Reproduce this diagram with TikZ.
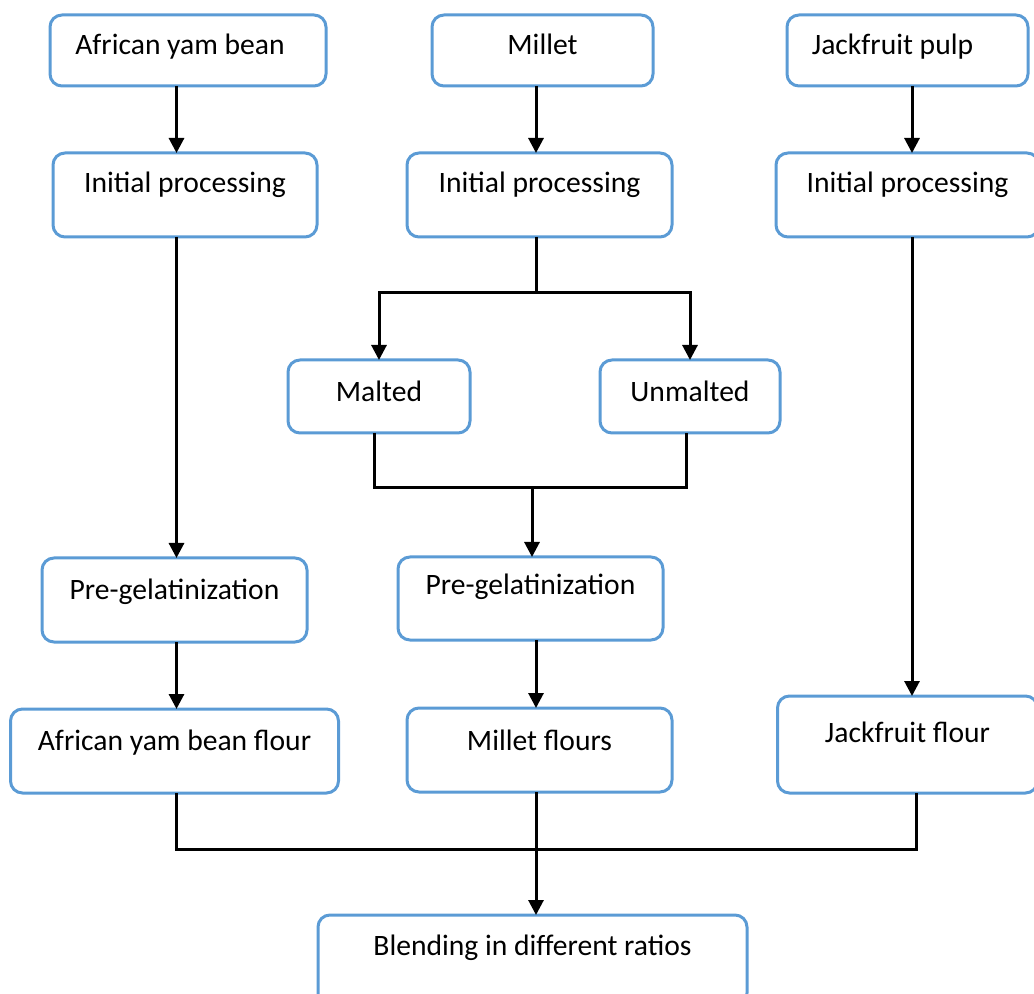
\documentclass[tikz,border=0pt]{standalone}
\usepackage{fontspec}
\setmainfont{Carlito}
\usepackage{xcolor}
\usepackage{tikz}
\usetikzlibrary{positioning,arrows.meta}
\definecolor{boxblue}{RGB}{91,155,213}
\tikzset{
  flow-box/.style={draw=boxblue, line width=1.5pt, rounded corners=6pt,
    inner sep=0pt, outer sep=0pt, text height=9.5pt,
    font=\fontsize{14.8}{17}\selectfont},
  flow-line/.style={line width=1.5pt, draw=black},
  flow-arrow/.style={flow-line, -{Triangle[length=7.5pt, width=7.5pt]}}
}

\begin{document}
\begin{tikzpicture}[x=0.5pt, y=-0.5pt, node distance=33.5pt and 65pt]
\useasboundingbox (0,0) rectangle (1034,994);

% Raw materials in the top row
\node[flow-box, minimum width=138pt, minimum height=35.5pt, text depth=5pt] (ayb) at (188,50.5) {African yam bean\kern8pt};
\node[flow-box, minimum width=110.5pt, minimum height=35.5pt, text depth=5pt] (millet) at (542.5,50.5) {Millet};
\node[flow-box, minimum width=120.5pt, minimum height=35.5pt, text depth=5pt] (jp) at (907.5,50.5) {Jackfruit pulp\kern15pt};

% Initial processing
\node[flow-box, below=of ayb, xshift=-1.5pt, minimum width=132pt, minimum height=42pt, text depth=11.5pt] (ip1) {Initial processing};
\node[flow-box, below=of millet, xshift=-1.5pt, minimum width=132.5pt, minimum height=42pt, text depth=11.5pt] (ip2) {Initial processing};
\node[flow-box, below=of jp, minimum width=131.5pt, minimum height=42pt, text depth=11.5pt] (ip3) {Initial processing};

% Millet branches
\node[flow-box, below=61.5pt of ip2, xshift=-80.25pt, minimum width=91pt, minimum height=36.5pt, text depth=4pt] (malted) {Malted};
\node[flow-box, right=of malted, minimum width=90pt, minimum height=36.5pt, text depth=4pt] (unmalted) {Unmalted};

% Pre-gelatinization
\node[flow-box, below=160.5pt of ip1, xshift=-5.25pt, minimum width=132.5pt, minimum height=42pt, text depth=9.5pt] (pg1) {Pre-gelatinization};
\node[flow-box, below=160pt of ip2, xshift=-4.5pt, minimum width=132.5pt, minimum height=41.5pt, text depth=13pt] (pg2) {Pre-gelatinization};

% Flours
\node[flow-box, below=of pg1, minimum width=164pt, minimum height=42pt, text depth=10.5pt] (aybf) {African yam bean flour};
\node[flow-box, below=34pt of pg2, xshift=4.5pt, minimum width=132.5pt, minimum height=42pt, text depth=9.5pt] (mf) {Millet flours};
\node[flow-box, below=229.5pt of ip3, minimum width=130pt, minimum height=48.5pt, text depth=12pt] (jff) {Jackfruit flour};

% Final step
\node[flow-box, below=61.5pt of mf, xshift=-3.5pt, minimum width=214.5pt, minimum height=45pt, text depth=14.5pt] (blend) {Blending in different ratios};

% Column lines and junctions
\coordinate (col1) at (176.5,0);
\coordinate (col2) at (536,0);
\coordinate (col3) at (912,0);
\coordinate (split) at (536,293);
\coordinate (merge) at (532,488);
\coordinate (bus) at (536,849);
\coordinate (jffdrop) at (916,849);

% African yam bean column
\draw[flow-arrow] (ayb.south -| col1) -- (ip1.north -| col1);
\draw[flow-arrow] (ip1.south -| col1) -- (pg1.north -| col1);
\draw[flow-arrow] (pg1.south -| col1) -- (aybf.north -| col1);

% Millet column
\draw[flow-arrow] (millet.south -| col2) -- (ip2.north -| col2);
\draw[flow-line] (ip2.south -| col2) -- (split);
\draw[flow-arrow] (split) -| (malted.north);
\draw[flow-arrow] (split) -| (unmalted.north);
\draw[flow-line] ([xshift=-2.5pt]malted.south) |- (merge) -| ([xshift=-2pt]unmalted.south);
\draw[flow-arrow] (merge) -- (pg2.north -| merge);
\draw[flow-arrow] (pg2.south -| col2) -- (mf.north -| col2);

% Jackfruit column
\draw[flow-arrow] (jp.south -| col3) -- (ip3.north -| col3);
\draw[flow-arrow] (ip3.south -| col3) -- (jff.north -| col3);

% Into blending
\draw[flow-line] (aybf.south -| col1) |- (jffdrop) -- (jffdrop |- jff.south);
\draw[flow-arrow] (mf.south -| col2) -- (blend.north -| col2);
\end{tikzpicture}
\end{document}
